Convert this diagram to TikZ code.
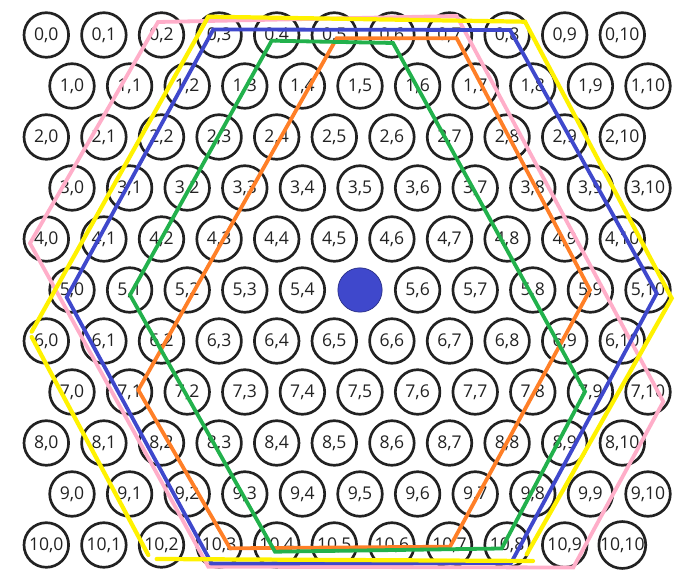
\documentclass[tikz,border=0pt]{standalone}
\usepackage{fontspec}
\setmainfont{Open Sans}
\definecolor{holedark}{HTML}{222222}
\definecolor{hexorange}{HTML}{FF7F27}
\definecolor{hexgreen}{HTML}{22B14C}
\definecolor{hexblue}{HTML}{3F48CC}
\definecolor{hexyellow}{HTML}{FFF200}
\definecolor{hexpink}{HTML}{FFAEC9}
\tikzset{
  hole/.style={circle, draw=holedark, line width=1.9pt, minimum size=31.7pt,
    inner sep=0pt, text=holedark, font=\fontsize{12.5}{14}\selectfont},
  hubdot/.style={circle, fill=hexblue, draw=hexblue!65!black, line width=0.5pt,
    minimum size=31.5pt, inner sep=0pt},
  hexline/.style={line width=2.7pt}
}

\begin{document}
\begin{tikzpicture}[x=0.025cm, y=-0.025cm]

    \useasboundingbox (0,0) rectangle (678,582);

    % Grid of holes, odd rows shifted right
    \foreach \r in {0,...,10}{
      \foreach \c in {0,...,10}{
        \pgfmathsetmacro{\xpos}{46.3+57.6*\c+25.7*mod(\r,2)}
        \pgfmathsetmacro{\ypos}{35+51*\r}
        \pgfmathtruncatemacro{\ishub}{(\r==5)&&(\c==5)}
        \ifnum\ishub=1 \def\holestyle{hubdot}\def\holetext{}%
        \else \def\holestyle{hole}\def\holetext{\r,\c}\fi
        \node[\holestyle] (n-\r-\c) at (\xpos,\ypos) {\holetext};
      }
    }

    % Pink hexagon
    \draw[hexline, hexpink] (158,22) -- (456.7,16) -- (663.3,401.7) -- (573.3,567.5)
        -- (208.3,566.7) -- (30,243.3) -- cycle;

    % Blue hexagon
    \draw[hexline, hexblue] (213.3,29.5) -- (510,30) -- (656.7,293.3) -- (511,563)
        -- (211.7,563.5) -- (66.7,297.3) -- cycle;

    % Orange hexagon
    \draw[hexline, hexorange] (336.7,38.3) -- (456.7,38.3) -- (590,290) -- (450,546.7)
        -- (230,548.3) -- (138.3,390) -- cycle;

    % Green hexagon
    \draw[hexline, hexgreen] (271.7,40.7) -- (393,43) -- (585,391.7) -- (501.7,548.5)
        -- (275,551.7) -- (130,295) -- cycle;

    % Yellow hexagon, drawn in pieces
    \draw[hexline, hexyellow, line width=3pt, line cap=round]
        (31.7,331.7) -- (208.3,16.7) -- (525,21.7) -- (671.7,298.3) -- (526.7,554.3);
    \draw[hexline, hexyellow, line width=3pt, line cap=round] (31.7,337) -- (148.3,555);
    \draw[hexline, hexyellow, line width=3pt, line cap=round] (156.7,559) -- (533,561);

\end{tikzpicture}
\end{document}
